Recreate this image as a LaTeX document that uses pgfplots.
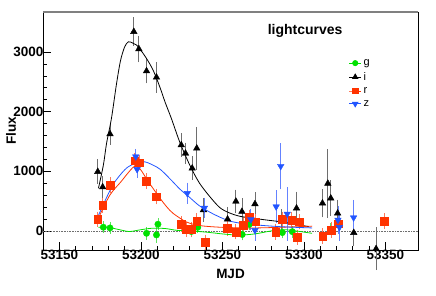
\documentclass[border=0pt]{standalone}
\usepackage{fontspec}
\setmainfont{Liberation Sans}
\usepackage{pgfplots}
\usepackage{pgfplotstable}
\pgfplotsset{compat=1.18}
\definecolor{rgreen}{RGB}{0,225,0}
\definecolor{rred}{RGB}{255,51,0}
\definecolor{rblue}{RGB}{34,85,255}
\definecolor{egreen}{RGB}{90,230,90}
\definecolor{ered}{RGB}{255,120,90}
\definecolor{eblue}{RGB}{100,130,255}
\definecolor{eblack}{RGB}{110,110,110}

\pgfplotstableread{
x y e
53177.0 62 70
53181.1 50 70
53203.5 -40 80
53209.6 -67 100
53210.5 112 70
53231.0 -10 70
53234.9 60 70
53262.2 -60 70
53266.5 110 70
53286.8 -28 70
53292.9 -12 70
53316.3 28 70
}\gdata

\pgfplotstableread{
x y e
53173.6 993 180
53176.6 735 150
53181.1 1625 150
53195.7 3340 210
53198.8 3050 195
53203.5 2680 180
53209.6 2575 230
53224.8 1440 170
53227.4 1300 150
53231.5 1050 170
53234.3 1385 330
53238.4 352 170
53253.2 196 180
53258.3 495 170
53262.0 323 200
53270.0 452 170
53286.4 184 150
53295.5 380 250
53311.4 464 210
53314.7 795 545
53316.5 548 270
53320.7 296 200
53330.6 -30 200
53344.3 -300 330
}\idata

\pgfplotstableread{
x y e
53173.6 196 100
53176.6 430 100
53181.1 770 100
53196.3 1178 100
53199.0 1144 100
53203.5 838 100
53209.6 575 100
53224.8 117 100
53227.8 28 100
53230.9 28 100
53234.3 167 100
53239.4 -190 100
53253.2 45 100
53258.3 -15 100
53262.8 100 100
53266.5 230 100
53270.5 156 100
53282.7 -20 100
53286.8 196 100
53292.5 184 100
53297.0 156 100
53296.0 -106 100
53311.6 -84 100
53316.6 17 100
53320.9 120 100
53349.4 167 100
}\rdata

\pgfplotstableread{
x y e
53196.9 1245 100
53197.7 1033 110
53228.5 631 150
53239.0 385 140
53267.5 190 150
53270.0 10 150
53283.0 407 250
53285.8 1085 360
53289.8 285 420
53320.9 184 200
53321.8 62 200
53330.5 223 270
}\zdata

\begin{document}
\begin{tikzpicture}
\begin{axis}[
  name=ax, scale only axis, width=375pt, height=238pt,
  xmin=53140, xmax=53370, ymin=-320, ymax=3670,
  xtick={53150,53200,53250,53300,53350}, ytick={0,1000,2000,3000},
  minor x tick num=4, minor y tick num=4,
  tick align=inside, xtick pos=bottom, ytick pos=left,
  major tick length=8pt, minor tick length=4pt,
  scaled ticks=false,
  /pgf/number format/set thousands separator={},
  /pgf/number format/assume math mode=true,
  tick label style={font=\fontsize{13.5}{15}\selectfont\bfseries},
  xticklabel style={yshift=3pt},
  yticklabel style={xshift=4pt},
  label style={font=\fontsize{13.5}{15}\selectfont\bfseries},
  xlabel={MJD}, ylabel={Flux},
  xlabel style={at={(axis description cs:0.5,-0.1)}, anchor=center},
  ylabel style={at={(axis description cs:-0.085,0.5)}, anchor=center},
  axis line style={black, line width=0.8pt},
  tick style={black, line width=0.6pt},
  clip=false,
  legend style={at={(rel axis cs:0.815,0.81)}, anchor=north west, draw=none, fill=none,
    font=\fontsize{11}{13}\selectfont, row sep=1.5pt, inner sep=0pt, cells={anchor=west}},
  legend image code/.code={\draw[mark repeat=2,mark phase=2,#1] plot coordinates {(0pt,0pt)(6pt,0pt)(12pt,0pt)};},
]
\addplot[densely dotted, eblack, line width=0.6pt, forget plot] coordinates {(53140,0)(53370,0)};

\addplot[only marks, mark=*, mark size=3.2pt, rgreen, forget plot,
  error bars/.cd, y dir=both, y explicit,
  error bar style={egreen, line width=0.8pt},
  error mark options={egreen, mark size=1.7pt, line width=0.8pt}]
  table[x=x, y=y, y error=e] {\gdata};
\addplot[only marks, mark=triangle*, mark size=3.8pt, black, forget plot,
  error bars/.cd, y dir=both, y explicit,
  error bar style={eblack, line width=0.8pt},
  error mark options={eblack, mark size=1.7pt, line width=0.8pt}]
  table[x=x, y=y, y error=e] {\idata};
\addplot[only marks, mark=square*, mark size=3.9pt, rred, forget plot,
  error bars/.cd, y dir=both, y explicit,
  error bar style={ered, line width=0.8pt},
  error mark options={ered, mark size=1.7pt, line width=0.8pt}]
  table[x=x, y=y, y error=e] {\rdata};
\addplot[only marks, mark=triangle*, mark options={rotate=180}, mark size=3.8pt, rblue, forget plot,
  error bars/.cd, y dir=both, y explicit,
  error bar style={eblue, line width=0.8pt},
  error mark options={eblue, mark size=1.7pt, line width=0.8pt}]
  table[x=x, y=y, y error=e] {\zdata};

% fitted curves
\addplot[rgreen, line width=0.8pt, smooth, no marks, forget plot] coordinates {
(53174,60)(53180,60)(53187,20)(53193,-10)(53200,20)(53207,45)(53215,40)(53222,10)(53230,0)(53240,-20)(53250,-50)(53260,-70)(53270,-50)(53280,0)(53288,20)(53295,0)(53305,-40)};
\addplot[black, line width=0.8pt, smooth, no marks, forget plot] coordinates {
(53174,715)(53177,1100)(53179,1470)(53182,1890)(53185,2450)(53187.5,2850)(53190,3080)(53192.3,3170)(53195,3150)(53197.4,3115)(53200.5,3010)(53203.5,2890)(53207.5,2697)(53211.6,2417)(53215,2150)(53218.7,1888)(53224,1480)(53230,1105)(53236,800)(53244,520)(53250,360)(53260,250)(53275,190)(53285,156)(53295,110)(53303,72)};
\addplot[rred, line width=0.8pt, smooth, no marks, forget plot] coordinates {
(53174,215)(53181,600)(53188,830)(53191.5,950)(53196,1080)(53199.5,1040)(53204.5,830)(53212,540)(53216,400)(53220,290)(53228,150)(53236,90)(53250,60)(53270,50)(53290,65)(53305,80)};
\addplot[rblue, line width=0.8pt, smooth, no marks, forget plot] coordinates {
(53174,260)(53179,560)(53184,820)(53192,1070)(53201,1160)(53207,1110)(53212,1030)(53218,870)(53224,700)(53230,560)(53236,420)(53244,290)(53254,170)(53265,115)(53285,72)(53305,50)};

\addlegendimage{rgreen, mark=*, mark size=2.6pt, line width=0.8pt}
\addlegendentry{g}
\addlegendimage{black, mark=triangle*, mark size=3pt, line width=0.8pt}
\addlegendentry{i}
\addlegendimage{rred, mark=square*, mark size=2.8pt, line width=0.8pt}
\addlegendentry{r}
\addlegendimage{rblue, mark=triangle*, mark options={rotate=180}, mark size=3pt, line width=0.8pt}
\addlegendentry{z}

\node[font=\fontsize{14}{16}\selectfont\bfseries] at (rel axis cs:0.699,0.92) {lightcurves};
\draw[gray, line width=1.2pt] (rel axis cs:0,1) -- (rel axis cs:1,1);
\end{axis}
\path ([shift={(-43pt,-45pt)}]ax.south west) rectangle ([shift={(18pt,12pt)}]ax.north east);
\end{tikzpicture}
\end{document}
